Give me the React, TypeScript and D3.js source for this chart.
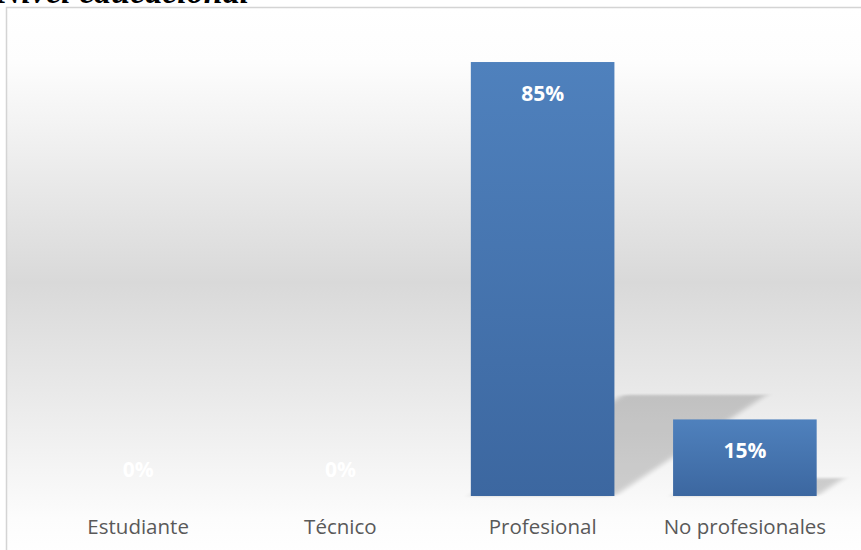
import { useEffect, useRef } from 'react';
import * as d3 from 'd3';

const categories = ['Estudiante', 'Técnico', 'Profesional', 'No profesionales'];
const values = [0, 0, 0.85, 0.15];
const title = 'Nivel educacional';

export default function App() {
  const ref = useRef<SVGSVGElement>(null);

  useEffect(() => {
    const svg = d3.select(ref.current);
    if (!ref.current) return;
    svg.selectAll('*').remove();

    const W = 861, H = 550;
    const defs = svg.append('defs');

    const bg = defs.append('linearGradient').attr('id', 'bg').attr('x1', 0).attr('y1', 0).attr('x2', 0).attr('y2', 1);
    bg.append('stop').attr('offset', '0%').attr('stop-color', '#ffffff');
    bg.append('stop').attr('offset', '10%').attr('stop-color', '#fdfdfd');
    bg.append('stop').attr('offset', '50%').attr('stop-color', '#d9d9d9');
    bg.append('stop').attr('offset', '93%').attr('stop-color', '#fcfcfc');
    bg.append('stop').attr('offset', '100%').attr('stop-color', '#ffffff');

    const barGrad = defs.append('linearGradient').attr('id', 'bar').attr('x1', 0).attr('y1', 0).attr('x2', 0).attr('y2', 1);
    barGrad.append('stop').attr('offset', '0%').attr('stop-color', '#4f81bd');
    barGrad.append('stop').attr('offset', '100%').attr('stop-color', '#3c67a0');

    defs.append('filter').attr('id', 'blur').attr('x', '-20%').attr('y', '-30%').attr('width', '140%').attr('height', '160%')
      .append('feGaussianBlur').attr('stdDeviation', 4.5);

    // chart area
    svg.append('rect').attr('x', 6.5).attr('y', 7.5).attr('width', W).attr('height', H)
      .attr('fill', 'url(#bg)').attr('stroke', '#d4d4d4').attr('stroke-width', 1.5);

    // title, mostly cropped above the picture
    svg.append('text').attr('x', -3).attr('y', 3)
      .attr('font-family', '"Liberation Serif", serif').attr('font-style', 'italic').attr('font-weight', 'bold')
      .attr('font-size', 34).attr('fill', '#000').text(title);

    const x = d3.scaleBand().domain(categories).range([37, 846]).paddingInner(0.29).paddingOuter(0.145);
    const y = d3.scaleLinear().domain([0, 0.9]).range([496, 36.5]);
    const y0 = y(0);

    // perspective shadows
    const k = 0.233, skew = -1.5;
    categories.forEach((c, i) => {
      if (values[i] <= 0) return;
      const bx = x(c)!;
      svg.append('rect')
        .attr('transform', `translate(0,${y0}) matrix(1,0,${skew * k},${k},0,0) translate(0,${-y0})`)
        .attr('x', bx).attr('y', y(values[i])).attr('width', x.bandwidth()).attr('height', y0 - y(values[i]))
        .attr('fill', '#000').attr('opacity', 0.17).attr('filter', 'url(#blur)');
    });

    svg.selectAll('.bar').data(categories).enter().append('rect')
      .attr('x', d => x(d)!).attr('width', x.bandwidth())
      .attr('y', (_, i) => y(values[i])).attr('height', (_, i) => y0 - y(values[i]))
      .attr('fill', 'url(#bar)');

    svg.selectAll('.lbl').data(categories).enter().append('text')
      .attr('x', d => x(d)! + x.bandwidth() / 2)
      .attr('y', (_, i) => values[i] > 0 ? y(values[i]) + 39 : y0 - 19)
      .attr('text-anchor', 'middle').attr('font-family', '"Open Sans", sans-serif').attr('font-weight', 'bold')
      .attr('font-size', 21).attr('fill', '#ffffff')
      .text((_, i) => `${Math.round(values[i] * 100)}%`);

    const axis = svg.append('g').attr('transform', `translate(0,${y0})`)
      .call(d3.axisBottom(x).tickSize(0).tickPadding(0));
    axis.select('.domain').remove();
    axis.selectAll('text').attr('dy', 0).attr('y', 38)
      .attr('font-family', '"Open Sans", sans-serif').attr('font-size', 20.5).attr('fill', '#595959');
  }, []);

  return (
    <svg ref={ref} width={861} height={550}
      style={{ position: 'absolute', left: 0, top: 0, display: 'block' }} />
  );
}
